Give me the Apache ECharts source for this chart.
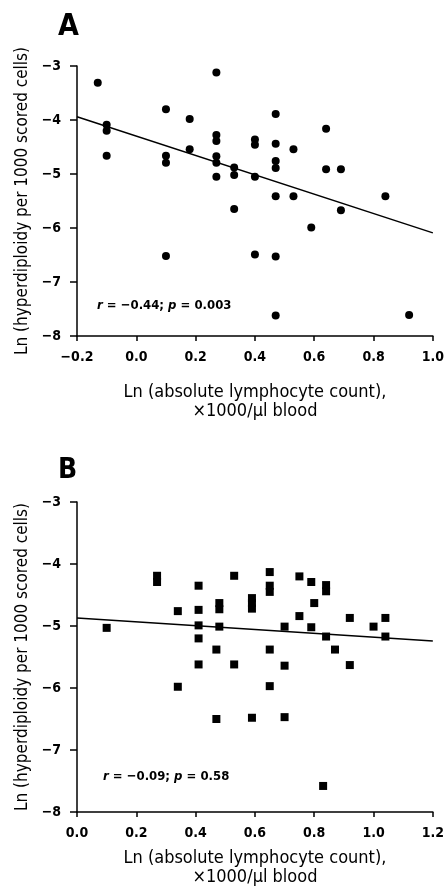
<!DOCTYPE html>
<html>
<head>
<meta charset="utf-8">
<script src="https://cdn.jsdelivr.net/npm/echarts@6/dist/echarts.min.js"></script>
<style>
  html, body { margin: 0; padding: 0; background: #fff; }
  #chart { width: 447px; height: 894px; }
</style>
</head>
<body>
<div id="chart"></div>
<script>
  // panel A: circles, ln lymphocyte count vs ln hyperdiploidy
  var pointsA = [
    [-0.13, -3.31], [-0.10, -4.09], [-0.10, -4.20], [-0.10, -4.66],
    [0.10, -3.80], [0.10, -4.66], [0.10, -4.79], [0.10, -6.52],
    [0.18, -3.98], [0.18, -4.54],
    [0.27, -3.12], [0.27, -4.28], [0.27, -4.39], [0.27, -4.67], [0.27, -4.79], [0.27, -5.05],
    [0.33, -4.88], [0.33, -5.02], [0.33, -5.65],
    [0.40, -4.36], [0.40, -4.46], [0.40, -5.05], [0.40, -6.49],
    [0.47, -3.89], [0.47, -4.44], [0.47, -4.76], [0.47, -4.89], [0.47, -5.41], [0.47, -6.53], [0.47, -7.62],
    [0.53, -4.54], [0.53, -5.41],
    [0.59, -5.99],
    [0.64, -4.16], [0.64, -4.91],
    [0.69, -4.91], [0.69, -5.67],
    [0.84, -5.41],
    [0.92, -7.61]
  ];
  var fitA = [[-0.2, -3.94], [1.0, -6.09]];

  // panel B: squares
  var pointsB = [
    [0.10, -5.03],
    [0.27, -4.19], [0.27, -4.29],
    [0.34, -4.76], [0.34, -5.98],
    [0.41, -4.35], [0.41, -4.74], [0.41, -4.99], [0.41, -5.20], [0.41, -5.62],
    [0.48, -4.63], [0.48, -4.73], [0.48, -5.01], [0.47, -5.38], [0.47, -6.50],
    [0.53, -4.19], [0.53, -5.62],
    [0.59, -4.55], [0.59, -4.63], [0.59, -4.72], [0.59, -6.48],
    [0.65, -4.13], [0.65, -4.35], [0.65, -4.45], [0.65, -5.38], [0.65, -5.97],
    [0.70, -5.01], [0.70, -5.64], [0.70, -6.47],
    [0.75, -4.20], [0.75, -4.84],
    [0.79, -4.29], [0.80, -4.63], [0.79, -5.02],
    [0.84, -4.34], [0.84, -4.44], [0.84, -5.17], [0.83, -7.58],
    [0.87, -5.38],
    [0.92, -4.87], [0.92, -5.63],
    [1.00, -5.01],
    [1.04, -4.87], [1.04, -5.17]
  ];
  var fitB = [[0.0, -4.87], [1.2, -5.24]];

  var yTitle = 'Ln (hyperdiploidy per 1000 scored cells)';
  var xTitle = 'Ln (absolute lymphocyte count),\n×1000/µl blood';
  var statsA = ['−0.44', '0.003'];
  var statsB = ['−0.09', '0.58'];

  var font = '"DejaVu Sans Condensed", "Liberation Sans Narrow", sans-serif';

  function xAxis (idx, min, max, gap) {
    return {
      gridIndex: idx, type: 'value', min: min, max: max, interval: 0.2,
      name: xTitle, nameLocation: 'middle', nameGap: gap,
      nameTextStyle: { fontFamily: font, fontSize: 18, color: '#000', lineHeight: 19 },
      axisLine: { onZero: false, lineStyle: { color: '#000', width: 1.5 } },
      axisTick: { length: 5, lineStyle: { color: '#000', width: 1.5 } },
      axisLabel: { fontFamily: font, fontSize: 14, fontWeight: 'bold', color: '#000', margin: 14,
        formatter: function (v) { return v.toFixed(1).replace('-', '−') } },
      splitLine: { show: false }
    }
  }
  function yAxis (idx) {
    return {
      gridIndex: idx, type: 'value', min: -8, max: -3, interval: 1,
      name: yTitle, nameLocation: 'middle', nameGap: 46,
      nameTextStyle: { fontFamily: font, fontSize: 17, color: '#000' },
      axisLine: { show: true, onZero: false, lineStyle: { color: '#000', width: 1.5 } },
      axisTick: { show: true, length: 7, lineStyle: { color: '#000', width: 1.5 } },
      axisLabel: { fontFamily: font, fontSize: 14, fontWeight: 'bold', color: '#000', margin: 16,
        formatter: function (v) { return String(v).replace('-', '−') } },
      splitLine: { show: false }
    }
  }
  function stats (vals) {
    return '{i|r} = ' + vals[0] + '; {i|p} = ' + vals[1]
  }
  var richStats = {
    i: { fontFamily: font, fontSize: 13, fontStyle: 'italic', fontWeight: 'bold', color: '#000' }
  };

  var chart = echarts.init(document.getElementById('chart'));
  chart.setOption({
    backgroundColor: '#fff',
    animation: false,
    title: [
      { text: 'A', left: 53, top: 7, textStyle: { fontFamily: font, fontSize: 30, fontWeight: 'bold', color: '#000' } },
      { text: 'B', left: 53, top: 452, textStyle: { fontFamily: font, fontSize: 28, fontWeight: 'bold', color: '#000' } },
      { text: stats(statsA), left: 92, top: 294,
        textStyle: { fontFamily: font, fontSize: 13, fontWeight: 'bold', color: '#000', rich: richStats } },
      { text: stats(statsB), left: 98, top: 765,
        textStyle: { fontFamily: font, fontSize: 13, fontWeight: 'bold', color: '#000', rich: richStats } }
    ],
    grid: [
      { left: 77, top: 66, width: 360, height: 270 },
      { left: 77, top: 502, width: 360, height: 310 }
    ],
    xAxis: [xAxis(0, -0.2, 1.0, 47), xAxis(1, 0, 1.2, 37)],
    yAxis: [yAxis(0), yAxis(1)],
    series: [
      {
        type: 'scatter', xAxisIndex: 0, yAxisIndex: 0, data: pointsA,
        symbol: 'circle', symbolSize: 8, itemStyle: { color: '#000', opacity: 1 }
      },
      {
        type: 'line', xAxisIndex: 0, yAxisIndex: 0, data: fitA,
        symbol: 'none', lineStyle: { color: '#000', width: 1.5 }
      },
      {
        type: 'scatter', xAxisIndex: 1, yAxisIndex: 1, data: pointsB,
        symbol: 'rect', symbolSize: 8, itemStyle: { color: '#000', opacity: 1 }
      },
      {
        type: 'line', xAxisIndex: 1, yAxisIndex: 1, data: fitB,
        symbol: 'none', lineStyle: { color: '#000', width: 1.5 }
      }
    ]
  });
</script>
</body>
</html>
